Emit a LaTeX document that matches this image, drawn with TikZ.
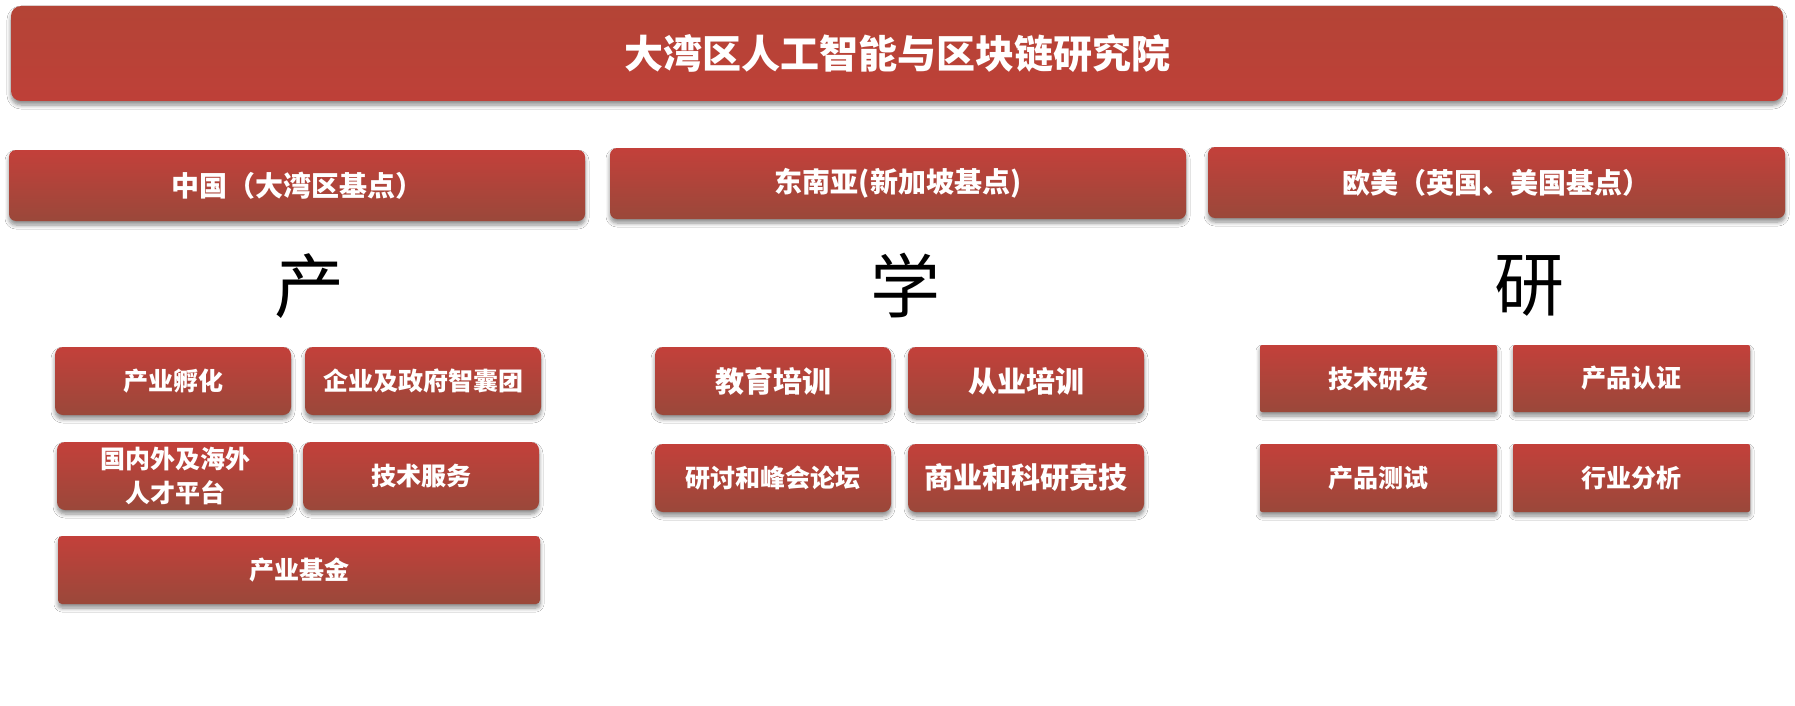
\documentclass[tikz,border=0pt]{standalone}
\usepackage{fontspec}
\newfontfamily\cjk{Noto Sans CJK SC}
\usetikzlibrary{shadows.blur}
\definecolor{rtop}{RGB}{195,64,58}
\definecolor{rbot}{RGB}{154,72,58}
\definecolor{bantop}{RGB}{180,68,54}
\definecolor{banbot}{RGB}{190,64,56}
\tikzset{
  shd/.style={blur shadow={shadow xshift=0pt,shadow yshift=-4pt,shadow blur steps=6,shadow opacity=45,shadow blur radius=4pt}},
  wh/.style 2 args={minimum width=#1pt,minimum height=#2pt},
  redbox/.style={shd, rounded corners=8pt, top color=rtop, bottom color=rbot, text=white, inner sep=0pt, align=center, font=\cjk\bfseries\fontsize{25}{34}\selectfont},
  bigtxt/.style={font=\cjk\bfseries\fontsize{29}{34}\selectfont},
  hdr/.style={redbox, rounded corners=7pt, font=\cjk\bfseries\fontsize{28}{32}\selectfont},
  banner/.style={shd, rounded corners=10pt, top color=bantop, bottom color=banbot, inner sep=0pt},
  titletxt/.style={text=white, font=\cjk\bfseries\fontsize{39}{44}\selectfont, inner sep=0pt},
  bigchar/.style={font=\cjk\fontsize{70}{70}\selectfont, inner sep=0pt},
  sqbox/.style={redbox, rounded corners=2pt},
}
\begin{document}
\begin{tikzpicture}[x=1pt,y=-1pt]
\useasboundingbox[fill=white] (0,0) rectangle (1795,706);
% banner
\node[banner, wh={1772}{95}] (ban) at (897,53.5) {};
\node[titletxt] (title) at (ban.center) {大湾区人工智能与区块链研究院};
% headers
\node[hdr, wh={576}{71}] (hcn) at (297,185.5) {中国（大湾区基点）};
\node[hdr, wh={576}{71}] (hsea) at (898,183.5) {东南亚(新加坡基点)};
\node[hdr, wh={577}{71}] (heu) at (1496.5,182.5) {欧美（英国、美国基点）};
% big characters
\node[bigchar] (chan) at (309,286) {产};
\node[bigchar] (xue) at (905,286) {学};
\node[bigchar] (yan) at (1529,286) {研};
% left column
\node[redbox, wh={236}{68}] (l1) at (173,381) {产业孵化};
\node[redbox, wh={236}{68}] (l2) at (423,381) {企业及政府智囊团};
\node[redbox, wh={236}{68}] (l3) at (175,476) {国内外及海外\\人才平台};
\node[redbox, wh={236}{68}] (l4) at (421,476) {技术服务};
\node[redbox, rounded corners=4pt, wh={482}{68}] (l5) at (299,570) {产业基金};
% middle column
\node[redbox, bigtxt, wh={236}{68}] (m1) at (773,381) {教育培训};
\node[redbox, bigtxt, wh={236}{68}] (m2) at (1026,381) {从业培训};
\node[redbox, wh={236}{68}] (m3) at (773,478) {研讨和峰会论坛};
\node[redbox, bigtxt, wh={236}{68}] (m4) at (1026,478) {商业和科研竞技};
% right column
\node[sqbox, wh={237}{67}] (r1) at (1378.5,378.5) {技术研发};
\node[sqbox, wh={237}{67}] (r2) at (1631.5,378.5) {产品认证};
\node[sqbox, wh={237}{68}] (r3) at (1378.5,478) {产品测试};
\node[sqbox, wh={237}{68}] (r4) at (1631.5,478) {行业分析};
\end{tikzpicture}
\end{document}
